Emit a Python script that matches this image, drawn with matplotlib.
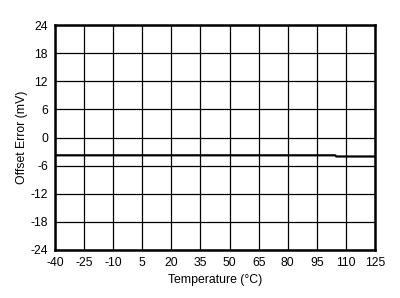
import matplotlib
matplotlib.use("Agg")
import matplotlib.pyplot as plt

plt.rcParams['font.family'] = ['Liberation Sans', 'DejaVu Sans']
plt.rcParams['axes.unicode_minus'] = False

temperatura = [-40, -25, -10, 5, 20, 35, 50, 65, 80, 95, 104.5, 105, 110, 125]
offset_mv = [-3.8, -3.8, -3.8, -3.8, -3.8, -3.8, -3.8, -3.8, -3.8, -3.8, -3.8, -4.05, -4.05, -4.05]

xticks = [-40, -25, -10, 5, 20, 35, 50, 65, 80, 95, 110, 125]
yticks = [-24, -18, -12, -6, 0, 6, 12, 18, 24]

fig = plt.figure(figsize=(4.0, 2.98), dpi=100)
ax = fig.add_axes([55 / 400, 48 / 298, 320 / 400, 225 / 298])

ax.plot(temperatura, offset_mv, color="black", linewidth=1.6)

ax.set_xlim(-40, 125)
ax.set_ylim(-24, 24)
ax.set_xticks(xticks)
ax.set_yticks(yticks)
ax.grid(True, color="black", linewidth=0.9)
ax.tick_params(length=0, labelsize=8.8, pad=5)
for s in ax.spines.values():
    s.set_linewidth(1.8)

ax.set_xlabel("Temperature (°C)", fontsize=8.8, labelpad=4)
ax.set_ylabel("Offset Error (mV)", fontsize=8.8, labelpad=2)

fig.savefig("out.png", dpi=100)
